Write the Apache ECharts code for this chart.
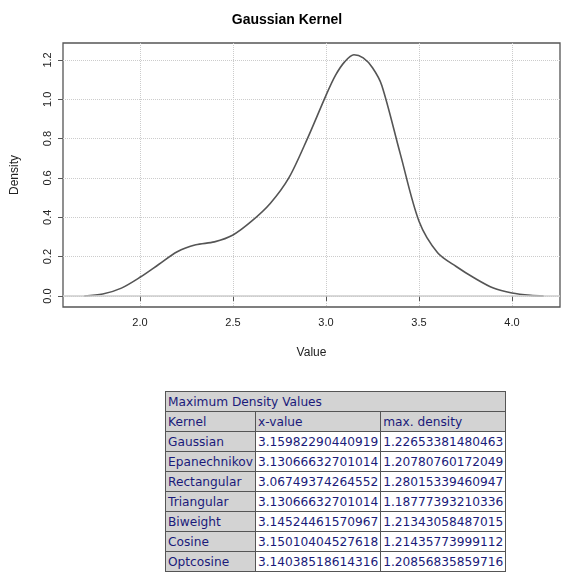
<!DOCTYPE html>
<html><head><meta charset="utf-8">
<script src="https://cdn.jsdelivr.net/npm/echarts@6/dist/echarts.min.js"></script>
<style>
body{margin:0;background:#fff;width:574px;height:581px;overflow:hidden;position:relative}
#c{position:absolute;left:0;top:0;width:574px;height:380px}
table{position:absolute;left:165px;top:391px;border-collapse:collapse;font-family:"DejaVu Sans",Verdana,sans-serif;font-size:12.2px;color:#1a1a7a}
td{border:1px solid #555;height:19px;padding:0 2px;white-space:nowrap;background:#fff}
td.g{background:#d3d3d3}
</style></head><body>
<div id="c"></div>
<table id="t"></table>
<script>
const xs=[1.70,1.80,1.90,2.00,2.10,2.20,2.30,2.40,2.50,2.60,2.70,2.80,2.90,3.00,3.05,3.10,3.15,3.20,3.25,3.30,3.40,3.50,3.60,3.70,3.80,3.90,4.00,4.10,4.17];
const ys=[0.0,0.01,0.04,0.095,0.16,0.225,0.26,0.275,0.31,0.38,0.47,0.60,0.80,1.02,1.12,1.19,1.226,1.21,1.16,1.07,0.72,0.38,0.22,0.15,0.09,0.04,0.015,0.003,0.0];
const kernels=["Gaussian","Epanechnikov","Rectangular","Triangular","Biweight","Cosine","Optcosine"];
const xvals=["3.15982290440919","3.13066632701014","3.06749374264552","3.13066632701014","3.14524461570967","3.15010404527618","3.14038518614316"];
const maxd=["1.22653381480463","1.20780760172049","1.28015339460947","1.18777393210336","1.21343058487015","1.21435773999112","1.20856835859716"];
const xticks=[2,2.5,3,3.5,4];
const yticks=[0,0.2,0.4,0.6,0.8,1.0,1.2];

const ch=echarts.init(document.getElementById('c'));
const f='Liberation Sans, Arial, sans-serif';
ch.setOption({
 animation:false,
 title:{text:'Gaussian Kernel',left:'center',top:8,textStyle:{fontFamily:f,fontSize:14,fontWeight:'bold',color:'#000'}},
 grid:{left:63,right:14,top:43,bottom:73,show:true,borderColor:'#555',borderWidth:1.3},
 xAxis:{type:'value',min:1.586,max:4.258,
   name:'Value',nameLocation:'middle',nameGap:40,nameTextStyle:{fontFamily:f,fontSize:12,color:'#222'},
   axisLine:{show:false},axisTick:{show:true,length:5,lineStyle:{color:'#555'},customValues:xticks},
   axisLabel:{fontFamily:f,fontSize:11,color:'#222',margin:10,customValues:xticks,formatter:v=>v.toFixed(1)},
   splitLine:{show:true,lineStyle:{type:'dotted',color:'#ccc'}}},
 yAxis:{type:'value',min:-0.056,max:1.286,
   name:'Density',nameLocation:'middle',nameGap:42,nameTextStyle:{fontFamily:f,fontSize:12,color:'#222'},
   axisLine:{show:false},axisTick:{show:true,length:5,lineStyle:{color:'#555'},customValues:yticks},
   axisLabel:{fontFamily:f,fontSize:11,color:'#222',rotate:90,margin:10,customValues:yticks,formatter:v=>v.toFixed(1)},
   splitLine:{show:true,lineStyle:{type:'dotted',color:'#ccc'}}},
 series:[{type:'line',data:xs.map((x,i)=>[x,ys[i]]),smooth:0.3,showSymbol:false,
   lineStyle:{color:'#555',width:1.6},
   markLine:{silent:true,symbol:'none',label:{show:false},lineStyle:{color:'#ccc',type:'solid',width:1.5},data:[{yAxis:0}]}}]
});

let h='<tr><td class="g" colspan="3">Maximum Density Values</td></tr><tr><td class="g">Kernel</td><td class="g">x-value</td><td class="g">max. density</td></tr>';
kernels.forEach((k,i)=>{h+=`<tr><td class="g">${k}</td><td>${xvals[i]}</td><td>${maxd[i]}</td></tr>`;});
document.getElementById('t').innerHTML=h;
</script></body></html>
